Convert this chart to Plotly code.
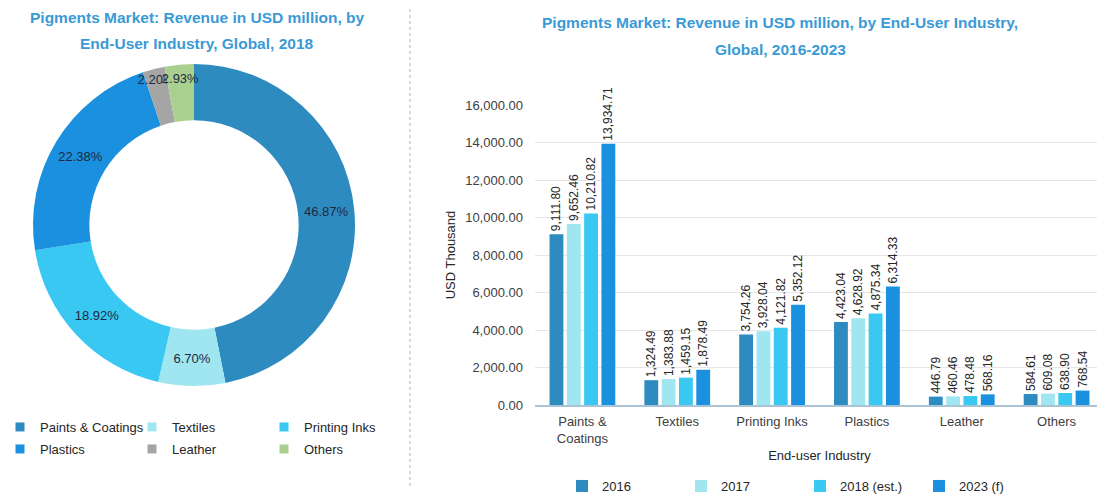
import plotly.graph_objects as go

# donut: share of 2018 revenue by end-user industry
segments = ["Paints & Coatings", "Textiles", "Printing Inks", "Plastics", "Leather", "Others"]
shares_2018 = [46.87, 6.70, 18.92, 22.38, 2.20, 2.93]
segment_colors = ["#2E8BC0", "#A0E6F0", "#38C8F2", "#1B90DE", "#A5A5A5", "#A9D08E"]

# bars: revenue by industry and year
industries = ["Paints &<br>Coatings", "Textiles", "Printing Inks", "Plastics", "Leather", "Others"]
years = ["2016", "2017", "2018 (est.)", "2023 (f)"]
rev_2016 = [9111.80, 1324.49, 3754.26, 4423.04, 446.79, 584.61]
rev_2017 = [9652.46, 1383.88, 3928.04, 4628.92, 460.46, 609.08]
rev_2018 = [10210.82, 1459.15, 4121.82, 4875.34, 478.48, 638.90]
rev_2023 = [13934.71, 1878.49, 5352.12, 6314.33, 568.16, 768.54]
year_colors = ["#2E8BC0", "#A0E6F0", "#38C8F2", "#1B90DE"]

W, H = 1105, 495
OFF = 8  # page body margin: the figure is drawn 8px in from the window corner
FONT = "Liberation Sans, Arial, sans-serif"
TITLE_BLUE = "#3A9AD6"
DARK = "#262626"


def px(x):
    # window x pixel -> paper fraction
    return (x - OFF) / W


def py(y):
    # window y pixel -> paper fraction
    return 1 - (y - OFF) / H


fig = go.Figure()

fig.add_trace(go.Pie(
    labels=segments, values=shares_2018,
    marker=dict(colors=segment_colors),
    hole=0.65, sort=False, direction="clockwise", rotation=0,
    texttemplate="%{value:.2f}%", textposition="inside",
    insidetextorientation="horizontal",
    textfont=dict(size=13, color="#1E2A40", family=FONT),
    domain=dict(x=[px(33), px(355)], y=[py(387), py(63)]),
    showlegend=False,
))

for name, vals, col in zip(years, [rev_2016, rev_2017, rev_2018, rev_2023], year_colors):
    fig.add_trace(go.Bar(
        name=name, x=industries, y=vals, marker=dict(color=col, line=dict(width=0)),
        texttemplate="%{y:,.2f}", textposition="outside", textangle=-90,
        textfont=dict(size=12, color=DARK, family=FONT),
        cliponaxis=False, constraintext="none", legend="legend",
    ))

# legend entries for the donut, split in two rows
for i, (seg, col) in enumerate(zip(segments, segment_colors)):
    fig.add_trace(go.Scatter(
        x=[None], y=[None], mode="markers", name=seg,
        marker=dict(symbol="square", size=9, color=col),
        legend="legend2" if i < 3 else "legend3",
    ))

leg_common = dict(orientation="h", font=dict(size=13, color=DARK, family=FONT),
                  bgcolor="rgba(0,0,0,0)", itemwidth=30, tracegroupgap=0,
                  xanchor="left", yanchor="middle", itemclick=False, itemdoubleclick=False)


def title_note(txt, xc, yc):
    return dict(text="<b>" + txt + "</b>", x=px(xc), y=py(yc), xref="paper", yref="paper",
                xanchor="center", yanchor="middle", showarrow=False,
                font=dict(size=15.5, color=TITLE_BLUE, family=FONT))


fig.update_layout(
    width=W, height=H,
    margin=dict(l=0, r=0, t=0, b=0, autoexpand=False),
    paper_bgcolor="white", plot_bgcolor="white",
    font=dict(family=FONT, size=13, color=DARK),
    barmode="group", bargap=0.27, bargroupgap=0.2,
    uniformtext=dict(minsize=12, mode="show"),
    xaxis=dict(
        domain=[px(535), px(1104)], showline=True, linecolor="#A9C4D6", linewidth=1.5,
        showgrid=False, tickfont=dict(size=13, color="#404040"), ticklabelstandoff=4,
        title=dict(text="End-user Industry", font=dict(size=13, color=DARK), standoff=6),
        fixedrange=True,
    ),
    yaxis=dict(
        domain=[py(405), py(105)], range=[0, 16000], dtick=2000,
        tickformat=",.2f", showgrid=True, gridcolor="#E6E6E6", zeroline=False,
        tickfont=dict(size=13, color="#404040"), ticklabelstandoff=11,
        title=dict(text="USD Thousand", font=dict(size=13, color=DARK), standoff=6),
        fixedrange=True,
    ),
    legend=dict(x=px(562), y=py(486), entrywidth=74, **leg_common),
    legend2=dict(x=px(0), y=py(427), entrywidth=87, **leg_common),
    legend3=dict(x=px(0), y=py(449), entrywidth=87, **leg_common),
    annotations=[
        title_note("Pigments Market: Revenue in USD million, by", 197, 17),
        title_note("End-User Industry, Global, 2018", 197, 43),
        title_note("Pigments Market: Revenue in USD million, by End-User Industry,", 780, 23),
        title_note("Global, 2016-2023", 780, 50),
    ],
    shapes=[dict(type="line", xref="paper", yref="paper", x0=px(410), x1=px(410),
                 y0=py(486), y1=py(5),
                 line=dict(color="#9DB8CF", width=1, dash="dot"))],
)

fig.write_html("out.html")
